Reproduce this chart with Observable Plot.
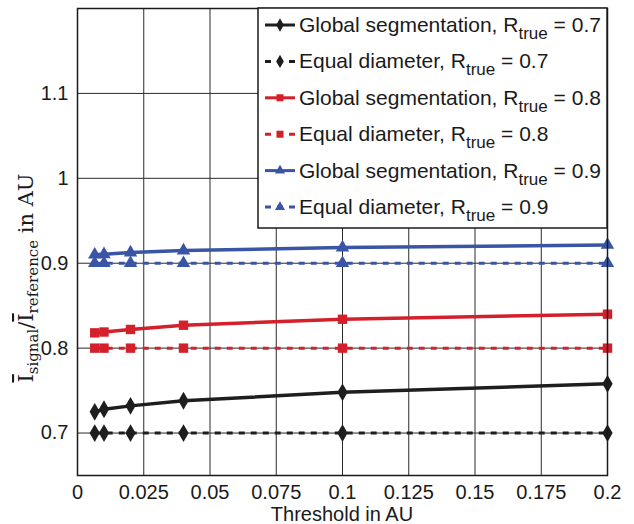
<!DOCTYPE html>
<html><head><meta charset="utf-8">
<script src="https://cdn.jsdelivr.net/npm/d3@7"></script>
<script src="https://cdn.jsdelivr.net/npm/@observablehq/plot@0.6"></script>
<style>body{margin:0;background:#fff} #chart{width:634px;height:524px}</style>
</head><body><div id="chart"></div>
<script>
// ---- data ----
const thresholds = [0.0065, 0.01, 0.02, 0.04, 0.1, 0.2];
const globalR07 = [0.725, 0.728, 0.732, 0.738, 0.748, 0.758];
const equalR07  = [0.7, 0.7, 0.7, 0.7, 0.7, 0.7];
const globalR08 = [0.818, 0.819, 0.822, 0.827, 0.834, 0.840];
const equalR08  = [0.8, 0.8, 0.8, 0.8, 0.8, 0.8];
const globalR09 = [0.910, 0.9105, 0.9125, 0.915, 0.9185, 0.9215];
const equalR09  = [0.9, 0.9, 0.9, 0.9, 0.9, 0.9];
const seriesMethod = ["Global segmentation", "Equal diameter", "Global segmentation", "Equal diameter", "Global segmentation", "Equal diameter"];
const seriesR = ["0.7", "0.7", "0.8", "0.8", "0.9", "0.9"];
const xTicks = [0, 0.025, 0.05, 0.075, 0.1, 0.125, 0.15, 0.175, 0.2];
const xTickLabels = ["0", "0.025", "0.05", "0.075", "0.1", "0.125", "0.15", "0.175", "0.2"];
const yTicks = [0.7, 0.8, 0.9, 1, 1.1];
const yTickLabels = ["0.7", "0.8", "0.9", "1", "1.1"];

// ---- styles ----
const seriesValues = [globalR07, equalR07, globalR08, equalR08, globalR09, equalR09];
const colors = ["#1e1e1e", "#1e1e1e", "#d4202a", "#d4202a", "#3a55a5", "#3a55a5"];
const symbols = ["diamond", "diamond", "square", "square", "triangle", "triangle"];
const symbolR = [5.4, 5.4, 5.3, 5.3, 5.0, 5.0];
const d3Symbols = {diamond: d3.symbolDiamond, square: d3.symbolSquare, triangle: d3.symbolTriangle};
const dashed = [false, true, false, true, false, true];
const DASH = "6,6";

const W = 634, H = 524;
const mL = 77, mR = 27, mT = 8, mB = 49;
const font = "'Liberation Sans', Arial, Helvetica, sans-serif";

const marks = [
  Plot.gridX(xTicks, {stroke: "#2a2a2a", strokeOpacity: 1, strokeWidth: 1}),
  Plot.gridY(yTicks, {stroke: "#2a2a2a", strokeOpacity: 1, strokeWidth: 1})
];
seriesValues.forEach((vals, i) => {
  const rows = thresholds.map((t, j) => ({x: t, y: vals[j]}));
  marks.push(Plot.line(rows, {x: "x", y: "y", stroke: colors[i], strokeWidth: dashed[i] ? 3 : 3.5,
    strokeDasharray: dashed[i] ? DASH : null, strokeLinecap: "butt"}));
  marks.push(Plot.dot(rows, {x: "x", y: "y", symbol: symbols[i], r: symbolR[i], fill: colors[i], stroke: "none"}));
});
marks.push(Plot.frame({stroke: "#1a1a1a", strokeWidth: 1.5}));
marks.push(Plot.axisX(xTicks, {tickSize: 0, tickPadding: 9, label: null,
  tickFormat: d => xTickLabels[xTicks.indexOf(d)], fontSize: 20, fill: "#1a1a1a"}));
marks.push(Plot.axisY(yTicks, {tickSize: 0, tickPadding: 9, label: null,
  tickFormat: d => yTickLabels[yTicks.indexOf(d)], fontSize: 20, fill: "#1a1a1a"}));

const plot = Plot.plot({
  width: W, height: H,
  marginLeft: mL, marginRight: mR, marginTop: mT, marginBottom: mB,
  x: {domain: [0, 0.2]},
  y: {domain: [0.65, 1.2]},
  style: {fontFamily: font, fontSize: "20px", background: "#fff", color: "#1a1a1a"},
  marks
});
document.getElementById("chart").appendChild(plot);

const svg = d3.select(plot);
// x axis label
svg.append("text").attr("x", (mL + W - mR) / 2).attr("y", 521)
  .attr("text-anchor", "middle").attr("font-size", 20).attr("font-family", font)
  .attr("fill", "#1a1a1a").text("Threshold in AU");

// y axis label (serif, with subscripts and overbars)
const yl = svg.append("text").attr("transform", "translate(33,278) rotate(-90)")
  .attr("text-anchor", "middle").attr("font-family", "'DejaVu Serif', 'Liberation Serif', serif")
  .attr("font-size", 21).attr("fill", "#1a1a1a");
yl.append("tspan").style("text-decoration", "overline").text("I");
yl.append("tspan").attr("font-size", 15).attr("dy", 5).text("signal");
yl.append("tspan").attr("dy", -5).text("/");
yl.append("tspan").style("text-decoration", "overline").text("I");
yl.append("tspan").attr("font-size", 15).attr("dy", 5).text("reference");
yl.append("tspan").attr("dy", -5).text(" in AU");

// legend
const lg = svg.append("g");
const lx0 = 258, lx1 = 607, ly0 = 8, ly1 = 228;
lg.append("rect").attr("x", lx0).attr("y", ly0).attr("width", lx1 - lx0).attr("height", ly1 - ly0)
  .attr("fill", "#fff").attr("stroke", "#1a1a1a").attr("stroke-width", 1.5);
seriesMethod.forEach((m, i) => {
  const base = 32 + i * 36.4;
  const cy = base - 7;
  lg.append("line").attr("x1", 265).attr("x2", 295).attr("y1", cy).attr("y2", cy)
    .attr("stroke", colors[i]).attr("stroke-width", 3)
    .attr("stroke-dasharray", dashed[i] ? DASH : null);
  const sz = Math.PI * (symbolR[i] * 0.75) ** 2;
  lg.append("path").attr("d", d3.symbol(d3Symbols[symbols[i]], sz)())
    .attr("transform", `translate(280,${cy})`).attr("fill", colors[i]);
  const t = lg.append("text").attr("x", 299).attr("y", base).attr("font-family", font)
    .attr("text-anchor", "start").attr("font-size", 21).attr("fill", "#1a1a1a");
  t.append("tspan").text(m + ", R");
  t.append("tspan").attr("font-size", 17).attr("dy", 7).text("true");
  t.append("tspan").attr("dy", -7).text(" = " + seriesR[i]);
});
</script></body></html>
